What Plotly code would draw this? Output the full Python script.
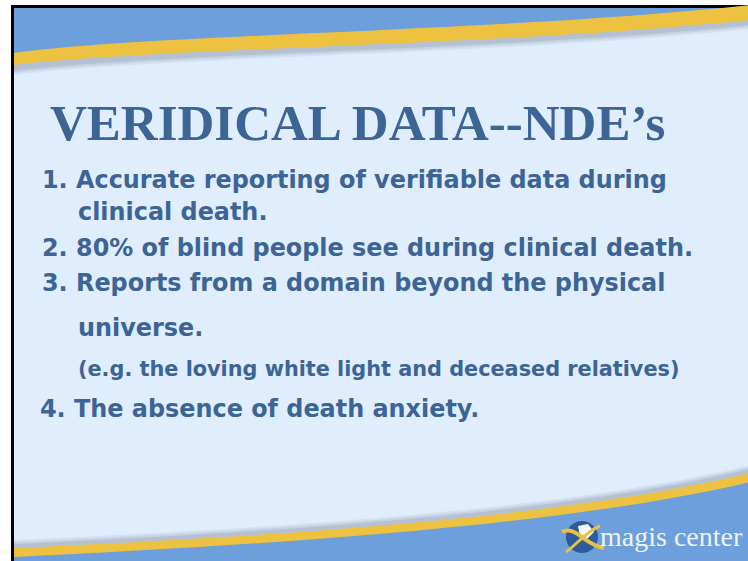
import plotly.graph_objects as go

# ---- slide content ----
title_text = "VERIDICAL DATA--NDE’s"
item_lines = [
    "1. Accurate reporting of verifiable data during",
    "clinical death.",
    "2. 80% of blind people see during clinical death.",
    "3. Reports from a domain beyond the physical",
    "universe.",
    "(e.g. the loving white light and deceased relatives)",
    "4. The absence of death anxiety.",
]
# layout of each line: (x, baseline y, font size)
line_x = [40, 76, 40, 40, 76, 76, 38]
line_base = [190, 222, 258, 293, 338, 377, 419]
line_size = [23.9, 23.9, 23.9, 23.9, 23.9, 20.8, 23.9]
brand_text = "magis center"

W, H = 748, 561
TXT = "#3C6495"
BG = "#DFEDFC"
BLUE = "#6C9FDC"
YEL = "#EEC241"
FONT = "DejaVu Sans"

fig = go.Figure()
fig.add_trace(go.Scatter(x=[0, W], y=[0, H], mode="markers",
                         marker=dict(opacity=0), hoverinfo="skip", showlegend=False))

shapes = []
shapes.append(dict(type="rect", x0=12.5, y0=6.5, x1=W + 20, y1=H + 20,
                   fillcolor=BG, line=dict(color="black", width=3), layer="below"))
shapes.append(dict(type="path", layer="below", line=dict(width=0), fillcolor=BLUE,
                   path="M 14,8 L 750,8 L 750,8 C 500,34 150,36 14,55 Z"))
for off, op in [(9, 0.10), (7, 0.15), (5, 0.22)]:
    shapes.append(dict(type="path", layer="below", line=dict(width=0),
                       fillcolor="rgba(120,130,150,%s)" % op,
                       path=f"M 14,55 C 150,36 500,34 750,8 L 750,{20+off} C 500,{46+off} 150,{48+off} 14,{66+off} Z"))
shapes.append(dict(type="path", layer="below", line=dict(width=0), fillcolor=YEL,
                   path="M 14,53 C 150,34 500,32 750,5 L 750,20 C 500,46 150,48 14,65 Z"))

for off, op in [(9, 0.10), (7, 0.15), (5, 0.22)]:
    shapes.append(dict(type="path", layer="below", line=dict(width=0),
                       fillcolor="rgba(120,130,150,%s)" % op,
                       path=f"M 14,{549-off} C 260,{538-off} 560,{520-off} 750,{474-off} L 750,{484} C 560,530 260,548 14,560 Z"))
shapes.append(dict(type="path", layer="below", line=dict(width=0), fillcolor=YEL,
                   path="M 14,548 C 260,537 560,519 750,473 L 750,484 C 560,530 260,548 14,560 Z"))
shapes.append(dict(type="path", layer="below", line=dict(width=0), fillcolor=BLUE,
                   path="M 14,557 C 260,545 560,527 750,482 L 750,570 L 14,570 Z"))

# logo: globe + swoosh
shapes.append(dict(type="circle", layer="above", x0=566, y0=521, x1=598, y1=553,
                   fillcolor="#2E5C9A", line=dict(width=0)))
shapes.append(dict(type="path", layer="above", line=dict(width=0), fillcolor="#F4F7FB",
                   path="M 578,526 L 588,524 L 594,532 L 586,540 L 580,536 Z"))
shapes.append(dict(type="path", layer="above", line=dict(color="#E8C04A", width=4),
                   path="M 562,532 C 575,525 585,545 604,548"))
shapes.append(dict(type="path", layer="above", line=dict(color="#E8C04A", width=3),
                   path="M 566,552 C 576,545 588,530 600,526"))

annotations = []
annotations.append(dict(x=48, y=140, xref="x", yref="y", text="<b>" + title_text + "</b>",
                        showarrow=False, xanchor="left", yanchor="bottom", yshift=-13,
                        font=dict(family="Liberation Serif", size=51, color=TXT)))
for t, x, b, s in zip(item_lines, line_x, line_base, line_size):
    annotations.append(dict(x=x, y=b, xref="x", yref="y", text="<b>" + t + "</b>",
                            showarrow=False, xanchor="left", yanchor="bottom",
                            yshift=-0.27 * s,
                            font=dict(family=FONT, size=s, color=TXT)))
annotations.append(dict(x=745, y=547, xref="x", yref="y", text=brand_text,
                        showarrow=False, xanchor="right", yanchor="bottom", yshift=-7,
                        font=dict(family="Liberation Serif", size=28, color="#EEF4FB")))

fig.update_layout(
    width=W, height=H, margin=dict(l=0, r=0, t=0, b=0),
    paper_bgcolor="white", plot_bgcolor="white",
    xaxis=dict(range=[0, W], visible=False, fixedrange=True),
    yaxis=dict(range=[H, 0], visible=False, fixedrange=True),
    shapes=shapes, annotations=annotations, showlegend=False,
)
fig.write_html("out.html", config={"displayModeBar": False, "staticPlot": True},
               post_script="document.body.style.margin='0';document.body.style.overflow='hidden';")
